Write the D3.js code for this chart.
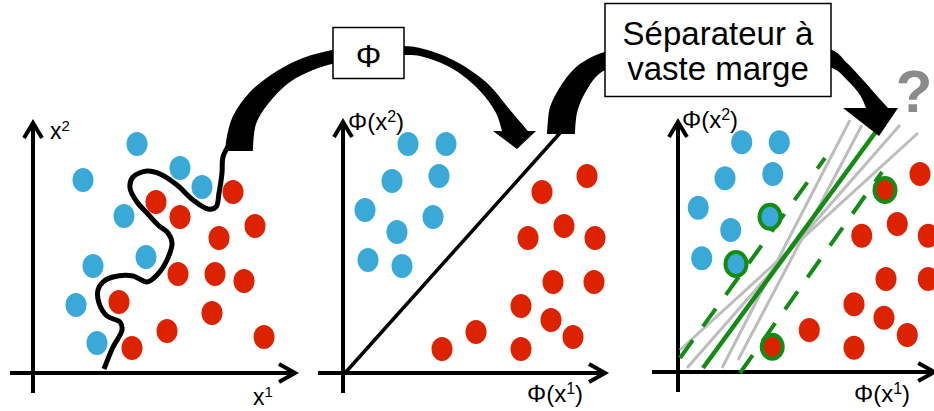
<!DOCTYPE html>
<html><head><meta charset="utf-8">
<script src="https://cdn.jsdelivr.net/npm/d3@7"></script>
<style>body{margin:0;background:#fff}svg{display:block}</style>
</head><body>
<svg id="c" width="934" height="411"></svg>
<script>
// ---------- DATA (units: 0..10 along each axis) ----------
// Panel 1 : input space (x1, x2)
const inputBlue = [[4.16,9.16],[2.0,7.72],[5.88,8.2],[6.76,7.44],[3.64,6.28],[4.52,4.64],[2.4,4.28],[1.72,2.72],[2.56,1.2]];
const inputRed  = [[4.92,6.84],[8.0,7.24],[5.88,6.24],[8.88,5.88],[7.44,5.4],[5.8,3.96],[7.28,3.96],[8.44,3.68],[3.44,2.84],[7.16,2.4],[5.36,1.68],[9.24,1.44],[3.96,1.0]];
const boundaryCurve = [[2.84,0.16],[3.2,1.04],[3.56,1.72],[3.48,2.04],[2.96,2.28],[2.64,2.8],[2.6,3.32],[2.8,3.64],[3.2,3.84],[4.0,3.88],[4.56,3.64],[4.96,3.92],[5.36,4.52],[5.56,5.2],[5.4,5.6],[5.0,5.92],[4.56,6.4],[4.16,6.84],[3.88,7.4],[4.0,7.84],[4.56,8.08],[5.08,7.96],[5.76,7.52],[6.4,6.92],[7.0,6.56],[7.32,6.64],[7.44,7.2],[7.56,8.0],[7.6,8.64],[7.84,9.12]];
// Panel 2 : feature space (Φ(x1), Φ(x2))
const featureBlue = [[2.6,9.16],[4.12,9.16],[1.96,7.68],[3.84,7.88],[0.88,6.52],[3.6,6.24],[2.16,5.64],[1.0,4.52],[2.36,4.28]];
const featureRed  = [[9.76,7.88],[7.96,7.24],[8.84,5.88],[7.4,5.4],[10.08,5.4],[8.4,3.64],[10.04,3.64],[7.12,2.68],[8.32,2.12],[5.32,1.64],[9.2,1.44],[3.96,0.96],[7.12,0.96]];
const featureSeparator = [[0.08,0],[8.68,9.6]];
// Panel 3 : large-margin separator
const marginBlue = [[2.55,9.19],[4.05,9.19],[1.88,7.75],[3.79,7.92],[0.81,6.57],[3.68,6.21],[2.11,5.68],[0.95,4.55],[2.32,4.32]];
const marginRed  = [[9.68,7.92],[8.28,7.28],[8.77,5.92],[7.35,5.45],[10.01,5.45],[8.32,3.72],[10.01,3.72],[7.04,2.71],[8.24,2.17],[5.25,1.68],[9.17,1.48],[7.04,0.97],[3.77,1.01]];
const supportBlue = [5, 8];
const supportRed  = [1, 12];
const optimalSeparator = [[1.0,0.16],[8.2,10.0]];
const marginUpper = [[0.08,0.56],[5.88,8.56]];
const marginLower = [[2.48,-0.04],[8.16,8.0]];
const candidateSeparators = [
  [[0.08,0.88],[9.6,9.56]],
  [[0.36,0.16],[8.88,9.88]],
  [[1.76,0.16],[6.88,10.08]],
  [[2.4,0.48],[7.36,9.88]]
];
const phiLabel = "Φ";
const svmLabel = ["Séparateur à", "vaste marge"];
const questionLabel = "?";

// ---------- LAYOUT ----------
const svg = d3.select("#c");
const FONT = "'Liberation Sans', Arial, sans-serif";
const BLUE = "#3aa9d8", RED = "#dd2200", GREEN = "#148c14", GRAY = "#bdbdbd";
const panels = [
  {ox:33,  oy:373, xa:[-0.92,10.48], ya:[-0.8,10.0]},
  {ox:343, oy:373, xa:[-1.0,10.48],  ya:[-0.8,10.04]},
  {ox:678, oy:372, xa:[-1.04,10.25], ya:[-0.8,10.0]}
];
panels.forEach(p => {
  p.x = d3.scaleLinear().domain([0,10]).range([p.ox, p.ox+250]);
  p.y = d3.scaleLinear().domain([0,10]).range([p.oy, p.oy-250]);
});

function drawAxes(p, xl, yl, fs, sfs) {
  const g = svg.append("g");
  const line = (x1,y1,x2,y2) => g.append("line").attr("x1",x1).attr("y1",y1).attr("x2",x2).attr("y2",y2)
      .attr("stroke","#000").attr("stroke-width",4);
  const xe = p.x(p.xa[1]), ys = p.y(p.ya[1]);
  line(p.x(p.xa[0]), p.oy, xe - 2, p.oy);
  line(p.ox, p.y(p.ya[0]), p.ox, ys + 2);
  g.append("path").attr("d", `M${xe-16},${p.oy-9}L${xe},${p.oy}L${xe-16},${p.oy+9}`)
    .attr("stroke","#000").attr("stroke-width",4).attr("fill","none").attr("stroke-linejoin","miter");
  g.append("path").attr("d", `M${p.ox-9},${ys+15}L${p.ox},${ys}L${p.ox+9},${ys+15}`)
    .attr("stroke","#000").attr("stroke-width",4).attr("fill","none").attr("stroke-linejoin","miter");
  const lab = (l) => {
    const t = g.append("text").attr("x",l.x).attr("y",l.y).attr("font-family",FONT).attr("font-size",fs).attr("fill","#000");
    t.append("tspan").text(l.pre);
    t.append("tspan").attr("dy",-8).attr("font-size",sfs).text(l.sup);
    if (l.post) t.append("tspan").attr("dy",8).text(l.post);
  };
  lab(yl); lab(xl);
}

function drawDots(p, data, color) {
  svg.append("g").selectAll("ellipse").data(data).join("ellipse")
    .attr("cx", d => p.x(d[0])).attr("cy", d => p.y(d[1]))
    .attr("rx", 10.5).attr("ry", 12).attr("fill", color);
}
function drawRings(p, data, idx) {
  svg.append("g").selectAll("ellipse").data(idx.map(i => data[i])).join("ellipse")
    .attr("cx", d => p.x(d[0])).attr("cy", d => p.y(d[1]))
    .attr("rx", 10.5).attr("ry", 12).attr("fill","none")
    .attr("stroke", GREEN).attr("stroke-width", 4);
}
function seg(p, s, color, w, dash) {
  const l = svg.append("line")
    .attr("x1", p.x(s[0][0])).attr("y1", p.y(s[0][1]))
    .attr("x2", p.x(s[1][0])).attr("y2", p.y(s[1][1]))
    .attr("stroke", color).attr("stroke-width", w);
  if (dash) l.attr("stroke-dasharray", dash);
}

const P1 = panels[0], P2 = panels[1], P3 = panels[2];
// Panel 1
drawAxes(P1, {x:253,y:405,pre:"x",sup:"1"}, {x:50,y:139,pre:"x",sup:"2"}, 23, 15);
drawDots(P1, inputBlue, BLUE);
drawDots(P1, inputRed, RED);
svg.append("path")
  .attr("d", d3.line().x(d => P1.x(d[0])).y(d => P1.y(d[1])).curve(d3.curveCatmullRom.alpha(0.5))(boundaryCurve))
  .attr("fill","none").attr("stroke","#000").attr("stroke-width",5).attr("stroke-linejoin","round");

// Panel 2
drawAxes(P2, {x:527,y:402,pre:"Φ(x",sup:"1",post:")"}, {x:348,y:130,pre:"Φ(x",sup:"2",post:")"}, 24, 16);
seg(P2, featureSeparator, "#000", 3.5);
drawDots(P2, featureBlue, BLUE);
drawDots(P2, featureRed, RED);

// Panel 3
drawAxes(P3, {x:854,y:402,pre:"Φ(x",sup:"1",post:")"}, {x:682,y:128,pre:"Φ(x",sup:"2",post:")"}, 24, 16);
candidateSeparators.forEach(s => seg(P3, s, GRAY, 3));
seg(P3, marginUpper, GREEN, 4, "22,17");
seg(P3, marginLower, GREEN, 4, "22,17");
seg(P3, optimalSeparator, GREEN, 4.5);
drawDots(P3, marginBlue, BLUE);
drawDots(P3, marginRed, RED);
drawRings(P3, marginBlue, supportBlue);
drawRings(P3, marginRed, supportRed);

// ---------- Block arrows ----------
function blockArrow(outer, head, inner) {
  const lc = d3.line().curve(d3.curveCatmullRom.alpha(0.5));
  let d = lc(outer);
  d += head.map(q => "L" + q[0] + "," + q[1]).join("");
  d += lc(inner).replace(/^M/, "L");
  return d + "Z";
}
svg.append("path").attr("fill","#000").attr("d", blockArrow(
  [[225,151],[227,136],[233,116],[250,92],[277,71],[303,58],[332,50],[368,45],[404,46],[420,48],[453,60],[487,83],[510,110],[528,131]],
  [[536,131],[517,149],[493,131]],
  [[502,131],[496,113],[480,91],[453,69],[420,56],[404,55],[368,58],[332,64],[313,70],[290,82],[268,104],[256,124],[253,151]]
));
svg.append("path").attr("fill","#000").attr("d", blockArrow(
  [[547,134],[548,120],[550,107],[560,87],[573,70],[583,62],[605,52],[718,40],[832,50],[847,63],[863,80],[878,97],[888,108]],
  [[898,108],[879,136],[843,108]],
  [[866,108],[860,95],[847,80],[832,68],[718,58],[605,70],[585,93],[577,113],[575,134]]
));

// Boxes
svg.append("rect").attr("x",333).attr("y",27.5).attr("width",71).attr("height",51)
  .attr("fill","#fff").attr("stroke","#000").attr("stroke-width",1.5);
svg.append("text").attr("x",368.5).attr("y",67).attr("text-anchor","middle")
  .attr("font-family",FONT).attr("font-size",32).text(phiLabel);
svg.append("rect").attr("x",605).attr("y",3.5).attr("width",226).attr("height",93)
  .attr("fill","#fff").attr("stroke","#000").attr("stroke-width",1.5);
svg.append("text").attr("text-anchor","middle").attr("font-family",FONT).attr("font-size",33)
  .selectAll("tspan").data(svmLabel).join("tspan")
  .attr("x",718).attr("y",(d,i) => 45 + i*35).text(d => d);

svg.append("text").attr("x",914).attr("y",112).attr("text-anchor","middle")
  .attr("font-family",FONT).attr("font-weight","bold").attr("font-size",60).attr("fill","#8a8a8a").text(questionLabel);
</script>
</body></html>
